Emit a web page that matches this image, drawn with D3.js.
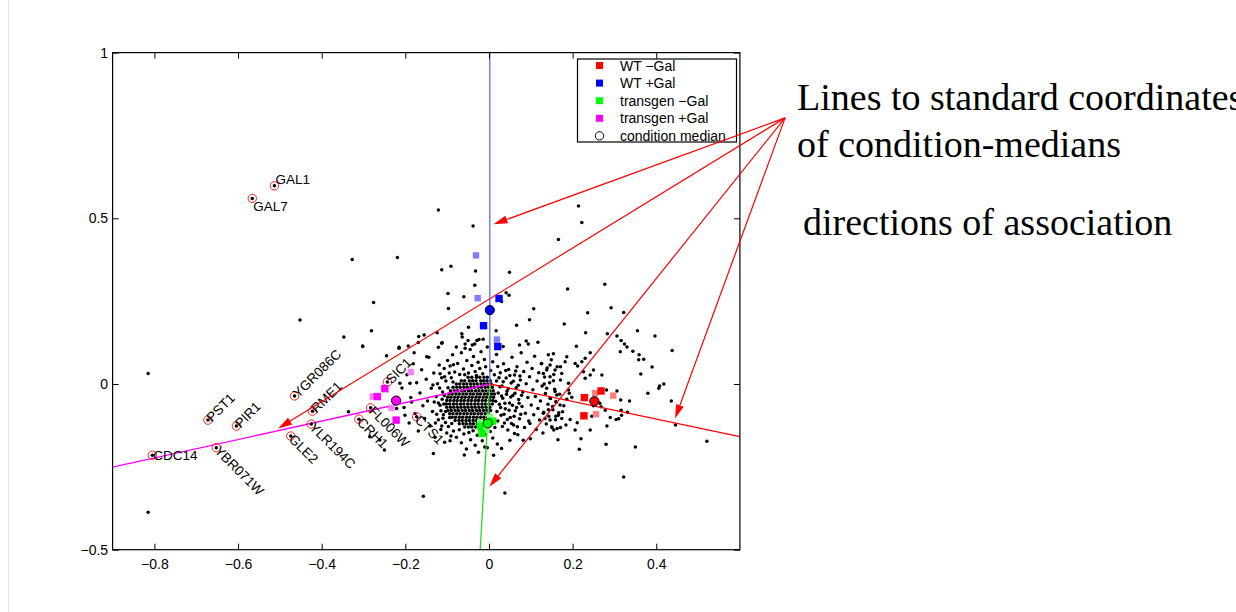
<!DOCTYPE html>
<html>
<head>
<meta charset="utf-8">
<script src="https://cdn.jsdelivr.net/npm/d3@7"></script>
<style>
  body { margin: 0; background: #fff; }
  svg { display: block; }
  .tick text { font-family: "Liberation Sans", Arial, sans-serif; font-size: 14px; fill: #000; }
  .tick line { stroke: #000; }
</style>
</head>
<body>
<div id="chart"></div>
<script>
// axes
const xDomain = [-0.9, 0.6];
const yDomain = [-0.5, 1];
const xTicks = [-0.8, -0.6, -0.4, -0.2, 0, 0.2, 0.4];
const xTickLabels = ['\u22120.8', '\u22120.6', '\u22120.4', '\u22120.2', '0', '0.2', '0.4'];
const yTicks = [-0.5, 0, 0.5, 1];
const yTickLabels = ['\u22120.5', '0', '0.5', '1'];

// conditions: WT -Gal, WT +Gal, transgen -Gal, transgen +Gal
const conditions = ['WT \u2212Gal', 'WT +Gal', 'transgen \u2212Gal', 'transgen +Gal'];
const medians = [[0.252, -0.052], [0.002, 0.223], [-0.003, -0.119], [-0.222, -0.050]];
const lineOrigin = [0.002, 0.0];
const lineEnds = [[0.6, -0.159], [0.002, 1.0], [-0.021, -0.5], [-0.9, -0.251]];
// replicate arrays, batch A (saturated) and batch B (pale)
const repA = [
  [[0.228, -0.041], [0.268, -0.021], [0.227, -0.096]],
  [[0.024, 0.258], [-0.013, 0.176], [0.021, 0.113]],
  [[-0.017, -0.149], [0.009, -0.112], [-0.021, -0.127]],
  [[-0.249, -0.014], [-0.267, -0.038], [-0.222, -0.109]]
];
const repB = [
  [[0.254, -0.028], [0.297, -0.035], [0.256, -0.091]],
  [[-0.031, 0.388], [-0.027, 0.259], [0.019, 0.134]],
  [[0.002, -0.099], [-0.021, -0.116], [-0.006, -0.139]],
  [[-0.187, 0.036], [-0.278, -0.038], [-0.233, -0.072]]
];

// labelled genes
const geneNames = ['GAL1', 'GAL7', 'PST1', 'PIR1', 'CDC14', 'YBR071W', 'YGR086C', 'GLE2',
  'RME1', 'YLR194C', 'SIC1', 'CRH1', 'FL006W', 'CTS1'];
const geneX = [-0.513, -0.566, -0.672, -0.604, -0.805, -0.652, -0.465, -0.474,
  -0.422, -0.425, -0.243, -0.311, -0.283, -0.173];
const geneY = [0.598, 0.560, -0.109, -0.127, -0.215, -0.192, -0.036, -0.157,
  -0.082, -0.121, 0.006, -0.106, -0.072, -0.099];
const geneTilt = [0, 0, -45, -45, 0, 45, -45, 45, -45, 45, -45, 45, 45, 45];

// other genes
const sparseGenes = [
  [-0.121,0.525],[0.214,0.537],[0.222,0.487],[-0.038,0.477],[0.166,0.436],[-0.327,0.376],[-0.219,0.382],
  [-0.113,0.345],[-0.091,0.355],[-0.032,0.341],[0.049,0.337],[-0.034,0.298],[0.188,0.287],[0.277,0.301],
  [-0.098,0.273],[-0.060,0.263],[0.041,0.275],[0.048,0.268],[0.030,0.249],[-0.276,0.246],[-0.097,0.228],
  [0.107,0.227],[0.097,0.194],[0.066,0.177],[0.180,0.181],[0.236,0.215],[0.292,0.230],[0.322,0.216],
  [-0.281,0.161],[-0.049,0.171],[0.017,0.161],[-0.065,0.152],[-0.168,0.143],[-0.155,0.148],[-0.124,0.155],
  [0.231,0.155],[0.283,0.152],[0.306,0.145],[0.355,0.161],[-0.050,0.131],[-0.034,0.121],[-0.024,0.134],
  [-0.014,0.135],[-0.040,0.118],[-0.112,0.125],[-0.193,0.115],[-0.215,0.108],[-0.302,0.113],[-0.121,0.111],
  [-0.057,0.108],[0.034,0.113],[0.073,0.118],[0.094,0.121],[0.117,0.126],[0.089,0.130],[0.209,0.114],
  [0.316,0.131],[0.324,0.121],[0.397,0.145],[0.330,0.112],
  [0.344,0.099],[0.314,0.097],[0.359,0.088],[0.358,0.073],[0.370,0.075],[0.438,0.101],[0.390,0.051],
  [0.363,0.030],[0.418,0.0],[0.408,-0.006],[0.406,-0.013],[0.380,-0.028],[0.436,-0.051],[0.446,-0.124],
  [0.521,-0.173],[0.270,0.027],[0.306,-0.021],[0.315,-0.048],[0.336,-0.051],[0.316,-0.079],[0.331,-0.085],
  [0.317,-0.094],[0.304,-0.107],[0.310,-0.105],[0.290,-0.101],[0.282,-0.127],[0.280,-0.182],[0.350,-0.190],
  [0.322,-0.281],[0.242,-0.139],[0.220,-0.165],[0.216,-0.197],[0.206,-0.139],[0.278,-0.079],[0.246,-0.097],
  [0.268,-0.069],
  [-0.815,0.032],[-0.815,-0.387],[-0.452,0.193],[-0.347,0.142],[-0.302,0.115],[-0.245,0.085],[-0.215,0.111],
  [-0.179,0.094],[-0.169,0.125],[-0.113,0.123],[-0.149,0.082],[-0.213,0.002],[-0.189,0.002],[-0.336,-0.084],
  [-0.250,-0.199],[-0.285,-0.159],[-0.261,-0.169],[-0.185,-0.054],[-0.201,-0.094],[-0.221,-0.074],
  [-0.133,-0.210],[-0.157,-0.339],[0.038,-0.329],[-0.010,-0.190],[0.030,-0.195],[0.050,-0.170],
  [0.061,-0.149],[0.082,-0.170],[0.098,-0.119]
];

const haloGenes = [
  // left of the core
  [-0.208,-0.012],[-0.203,-0.071],[-0.196,0.028],[-0.191,-0.118],[-0.187,-0.041],[-0.181,0.061],[-0.177,-0.089],
  [-0.173,0.004],[-0.169,-0.142],[-0.165,-0.027],[-0.161,0.043],[-0.158,-0.066],[-0.154,-0.104],[-0.150,0.014],
  [-0.147,-0.051],[-0.144,0.081],[-0.141,-0.127],[-0.138,-0.013],[-0.135,-0.083],[-0.132,0.033],[-0.129,-0.161],
  [-0.126,-0.038],[-0.123,0.001],[-0.121,-0.108],[-0.119,0.057],[-0.117,-0.064],[-0.115,-0.137],[-0.113,0.019],
  [-0.111,-0.024],[-0.109,-0.093],[-0.107,0.047],[-0.106,-0.176],[-0.104,-0.116],[-0.103,0.009],[-0.101,-0.148],
  [-0.099,0.071],[-0.098,-0.011],[-0.097,-0.128],[-0.095,0.033],[-0.094,-0.101],[-0.093,0.054],[-0.091,-0.157],
  [-0.090,0.019],[-0.089,-0.119],[-0.087,0.088],[-0.086,0.006],
  [-0.112,-0.046],[-0.115,-0.081],[-0.118,-0.012],[-0.108,-0.060],[-0.110,-0.103],[-0.121,-0.057],[-0.125,-0.091],
  [-0.128,-0.118],[-0.131,-0.054],[-0.134,-0.003],[-0.117,0.031],[-0.106,0.022],[-0.113,-0.127],[-0.104,-0.083],
  [-0.107,-0.035],
  // above the core
  [-0.082,0.036],[-0.075,0.062],[-0.070,0.029],[-0.066,0.094],[-0.061,0.045],[-0.057,0.121],[-0.053,0.071],
  [-0.049,0.033],[-0.045,0.104],[-0.041,0.056],[-0.037,0.083],[-0.033,0.038],[-0.029,0.131],[-0.026,0.066],
  [-0.022,0.047],[-0.019,0.097],[-0.015,0.031],[-0.011,0.074],[-0.008,0.052],[-0.004,0.112],[0.004,0.041],
  [0.009,0.067],[0.013,0.028],[0.018,0.089],[-0.085,0.058],[-0.078,0.112],[-0.064,0.142],[-0.030,0.026],
  [-0.058,0.028],[0.021,0.053],
  // below the core
  [-0.085,-0.142],[-0.078,-0.161],[-0.071,-0.138],[-0.066,-0.177],[-0.060,-0.151],[-0.054,-0.196],[-0.048,-0.146],
  [-0.044,-0.168],[-0.038,-0.141],[-0.033,-0.185],[-0.028,-0.155],[-0.021,-0.139],[-0.016,-0.171],[-0.010,-0.152],
  [-0.004,-0.192],[0.003,-0.143],[0.009,-0.163],[0.014,-0.131],[0.020,-0.181],[-0.093,-0.171],[-0.059,-0.214],
  [-0.025,-0.206],[0.011,-0.215],
  // right of the core
  [0.018,0.009],[0.022,-0.027],[0.025,-0.061],[0.027,0.034],[0.029,-0.094],[0.031,-0.006],[0.033,-0.043],
  [0.035,0.061],[0.037,-0.118],[0.039,-0.075],[0.041,0.018],[0.043,-0.022],[0.045,-0.139],[0.047,0.044],
  [0.049,-0.057],[0.051,-0.101],[0.053,0.003],[0.055,0.081],[0.057,-0.035],[0.059,-0.124],[0.061,0.027],
  [0.063,-0.081],[0.065,-0.011],[0.067,0.052],[0.069,-0.153],[0.071,-0.047],[0.073,-0.105],[0.075,0.012],
  [0.077,0.094],[0.079,-0.068],[0.081,-0.024],[0.083,0.038],[0.085,-0.131],[0.087,-0.088],[0.089,0.001],
  [0.091,0.066],[0.093,-0.041],[0.095,-0.112],[0.097,0.022],[0.099,-0.165],[0.101,-0.063],[0.103,0.047],
  [0.105,-0.017],[0.107,-0.093],[0.109,0.084],[0.111,-0.038],[0.113,-0.137],[0.115,0.009],[0.117,-0.074],
  [0.119,0.034],[0.121,-0.109],[0.123,-0.051],[0.125,0.061],[0.127,-0.006],[0.129,-0.148],[0.131,-0.085],
  [0.133,0.021],[0.135,-0.029],[0.137,-0.121],[0.139,0.048],[0.141,-0.061],[0.143,-0.097],[0.145,0.004],
  [0.147,-0.044],[0.149,0.073],[0.151,-0.132],[0.153,-0.078],[0.155,0.029],[0.157,-0.016],[0.159,-0.108],
  [0.161,-0.055],[0.163,0.052],[0.165,-0.168],[0.167,-0.087],[0.169,-0.031],[0.171,0.012],
  [0.016,-0.052],[0.019,-0.083],[0.021,-0.112],[0.024,0.019],[0.026,-0.008],[0.028,-0.071],[0.030,-0.036],
  [0.032,-0.128],[0.034,0.007],[0.036,-0.091],[0.038,-0.058],[0.040,0.041],[0.042,-0.031],[0.044,-0.107],
  [0.046,-0.014],[0.048,-0.079],[0.050,0.026],[0.052,-0.039],[0.054,-0.119],[0.056,-0.064],[0.058,0.008],
  [0.060,-0.097],[0.062,-0.028],[0.064,0.039],[0.066,-0.071],[0.068,-0.129],[0.070,-0.004],[0.072,-0.058],
  [0.074,0.024],[0.076,-0.091],[0.078,-0.034],
  // right cluster
  [0.192,-0.028],[0.190,0.002],[0.190,-0.018],[0.174,0.032],[0.158,0.042],[0.171,0.052],[0.182,0.067],
  [0.186,0.082],[0.206,0.062],[0.222,0.067],[0.230,0.078],[0.242,0.094],[0.226,0.037],[0.230,0.017],
  [0.242,0.027],[0.250,0.042],[0.212,0.054],[0.146,0.057],[0.142,0.088],[0.154,0.091],[0.138,0.042],
  [0.130,0.032],[0.126,0.062],[0.146,0.022],[0.154,0.010],[0.132,0.0],[0.138,-0.013],[0.158,-0.023],
  [0.162,-0.033],[0.146,-0.043],[0.160,-0.053],[0.170,-0.063],[0.152,-0.068],[0.142,-0.078],[0.130,-0.088],
  [0.134,-0.104],[0.146,-0.109],[0.160,-0.097],[0.174,-0.104],[0.179,-0.066],[0.186,-0.046],[0.198,-0.040],
  [0.211,-0.117],[0.194,-0.107],[0.184,-0.124],[0.171,-0.131],[0.163,-0.134],[0.155,-0.139],[0.150,-0.129],
  [0.166,-0.094],[0.176,-0.084],[0.250,-0.023],[0.281,-0.018],[0.265,-0.058],[0.250,-0.066]
];

// dense core of the cloud: [y, x values along that row]
const coreRows = [
  [0.02, [-0.050,-0.041,-0.030,-0.022,-0.012,-0.004]],
  [0.01, [-0.066,-0.058,-0.047,-0.039,-0.031,-0.020,-0.013,-0.005,0.003]],
  [0.00, [-0.078,-0.070,-0.061,-0.053,-0.044,-0.036,-0.028,-0.019,-0.011,-0.003,0.005]],
  [-0.01, [-0.086,-0.077,-0.069,-0.060,-0.052,-0.043,-0.035,-0.026,-0.018,-0.009,-0.001,0.008]],
  [-0.02, [-0.092,-0.083,-0.075,-0.066,-0.058,-0.049,-0.041,-0.032,-0.024,-0.015,-0.007,0.002,0.010]],
  [-0.03, [-0.096,-0.088,-0.079,-0.071,-0.062,-0.054,-0.045,-0.037,-0.028,-0.020,-0.011,-0.003,0.006,0.013]],
  [-0.04, [-0.099,-0.091,-0.082,-0.074,-0.065,-0.057,-0.048,-0.040,-0.031,-0.023,-0.014,-0.006,0.003,0.011]],
  [-0.05, [-0.101,-0.093,-0.084,-0.076,-0.067,-0.059,-0.050,-0.042,-0.033,-0.025,-0.016,-0.008,0.001,0.009]],
  [-0.06, [-0.102,-0.094,-0.085,-0.077,-0.068,-0.060,-0.051,-0.043,-0.034,-0.026,-0.017,-0.009,0.000,0.008]],
  [-0.07, [-0.101,-0.092,-0.084,-0.075,-0.067,-0.058,-0.050,-0.041,-0.033,-0.024,-0.016,-0.007,0.002]],
  [-0.08, [-0.098,-0.090,-0.081,-0.073,-0.064,-0.056,-0.047,-0.039,-0.030,-0.022,-0.013,-0.005,0.004]],
  [-0.09, [-0.094,-0.086,-0.077,-0.069,-0.060,-0.052,-0.043,-0.035,-0.026,-0.018,-0.009,-0.001]],
  [-0.10, [-0.088,-0.080,-0.071,-0.063,-0.054,-0.046,-0.037,-0.029,-0.020,-0.012,-0.003]],
  [-0.11, [-0.081,-0.072,-0.064,-0.055,-0.047,-0.038,-0.030,-0.021,-0.013]],
  [-0.12, [-0.071,-0.062,-0.054,-0.045,-0.037,-0.028,-0.020]],
  [-0.13, [-0.058,-0.049,-0.041,-0.032]]
];

// annotation arrows (data coordinates)
const arrowFrom = [0.708, 0.803];
const arrowTo = [[0.011, 0.482], [-0.504, -0.134], [0.001, -0.310], [0.445, -0.104]];
const noteLines = ['Lines to standard coordinates', 'of condition-medians', 'directions of association'];

const fullColors = ['#ff0000', '#0000ff', '#00ff00', '#ff00ff'];
const paleColors = ['#ff8080', '#8080ff', '#80ff80', '#ff80ff'];
const lineColors = ['#ff0000', '#6464ff', '#22dd22', '#ff00ff'];

const W = 1236, H = 612;
const svg = d3.select('#chart').append('svg').attr('width', W).attr('height', H);

const x = d3.scaleLinear().domain(xDomain).range([112.6, 739.9]);
const y = d3.scaleLinear().domain(yDomain).range([549.7, 52.6]);

// faint figure edge on the left
svg.append('line').attr('x1', 8.5).attr('x2', 8.5).attr('y1', 0).attr('y2', H)
  .attr('stroke', '#e2e2e2').attr('stroke-width', 1);

svg.append('defs').append('clipPath').attr('id', 'plotclip')
  .append('rect').attr('x', x(xDomain[0])).attr('y', y(yDomain[1]))
  .attr('width', x(xDomain[1]) - x(xDomain[0])).attr('height', y(yDomain[0]) - y(yDomain[1]));

const plot = svg.append('g').attr('clip-path', 'url(#plotclip)');

// gene cloud
const corePts = [];
coreRows.forEach(r => r[1].forEach(v => corePts.push([v, r[0]])));
const allPts = sparseGenes.concat(haloGenes, corePts);
plot.append('g').selectAll('circle').data(allPts).join('circle')
  .attr('cx', d => x(d[0])).attr('cy', d => y(d[1])).attr('r', 1.75).attr('fill', '#000');

// lines to condition medians
plot.append('g').selectAll('line').data(lineEnds).join('line')
  .attr('x1', x(lineOrigin[0])).attr('y1', y(lineOrigin[1]))
  .attr('x2', d => x(d[0])).attr('y2', d => y(d[1]))
  .attr('stroke', (d, i) => lineColors[i]).attr('stroke-width', 1.3);

// labelled genes
const genes = geneNames.map((n, i) => ({ name: n, x: geneX[i], y: geneY[i], tilt: geneTilt[i] }));
const gg = plot.append('g');
gg.selectAll('circle.ring').data(genes).join('circle').attr('class', 'ring')
  .attr('cx', d => x(d.x)).attr('cy', d => y(d.y)).attr('r', 4.2)
  .attr('fill', 'none').attr('stroke', '#ff2020').attr('stroke-width', 1);
gg.selectAll('circle.dot').data(genes).join('circle').attr('class', 'dot')
  .attr('cx', d => x(d.x)).attr('cy', d => y(d.y)).attr('r', 1.75).attr('fill', '#000');
gg.selectAll('text').data(genes).join('text')
  .attr('transform', d => `translate(${x(d.x)},${y(d.y)}) rotate(${d.tilt})`)
  .attr('x', 1)
  .attr('dy', d => d.name === 'GAL1' ? '-0.15em' : d.name === 'GAL7' ? '0.95em' : '0.35em')
  .attr('font-family', '"Liberation Sans", Arial, sans-serif').attr('font-size', 13.5)
  .text(d => d.name);

// replicate squares
const sq = plot.append('g');
repB.forEach((arr, i) => {
  sq.selectAll(null).data(arr).join('rect')
    .attr('x', d => x(d[0]) - 3.2).attr('y', d => y(d[1]) - 3.2)
    .attr('width', 6.4).attr('height', 6.4).attr('fill', paleColors[i]);
});
repA.forEach((arr, i) => {
  sq.selectAll(null).data(arr).join('rect')
    .attr('x', d => x(d[0]) - 3.7).attr('y', d => y(d[1]) - 3.7)
    .attr('width', 7.4).attr('height', 7.4).attr('fill', fullColors[i]);
});

// condition medians
plot.append('g').selectAll('circle').data(medians).join('circle')
  .attr('cx', d => x(d[0])).attr('cy', d => y(d[1])).attr('r', 4.6)
  .attr('fill', (d, i) => fullColors[i]).attr('stroke', '#000').attr('stroke-width', 1);

// axes box with inward ticks
const axisFont = '"Liberation Sans", Arial, sans-serif';
svg.append('g').attr('transform', `translate(0,${y(yDomain[0])})`)
  .call(d3.axisBottom(x).tickValues(xTicks).tickSize(-6).tickPadding(9)
    .tickFormat((d, i) => xTickLabels[i]))
  .call(g => g.select('.domain').remove());
svg.append('g').attr('transform', `translate(0,${y(yDomain[1])})`)
  .call(d3.axisTop(x).tickValues(xTicks).tickSize(-6).tickFormat(''))
  .call(g => g.select('.domain').remove());
svg.append('g').attr('transform', `translate(${x(xDomain[0])},0)`)
  .call(d3.axisLeft(y).tickValues(yTicks).tickSize(-6).tickPadding(4.5)
    .tickFormat((d, i) => yTickLabels[i]))
  .call(g => g.select('.domain').remove());
svg.append('g').attr('transform', `translate(${x(xDomain[1])},0)`)
  .call(d3.axisRight(y).tickValues(yTicks).tickSize(-6).tickFormat(''))
  .call(g => g.select('.domain').remove());
svg.selectAll('.tick text').attr('font-family', axisFont);
svg.append('rect')
  .attr('x', x(xDomain[0])).attr('y', y(yDomain[1]))
  .attr('width', x(xDomain[1]) - x(xDomain[0])).attr('height', y(yDomain[0]) - y(yDomain[1]))
  .attr('fill', 'none').attr('stroke', '#000').attr('stroke-width', 1.2);

// legend
const leg = svg.append('g').attr('transform', 'translate(577.5,59)');
leg.append('rect').attr('width', 159).attr('height', 83)
  .attr('fill', '#fff').attr('stroke', '#000').attr('stroke-width', 1.2);
const legRows = conditions.concat(['condition median']);
legRows.forEach((t, i) => {
  const cy = 6.5 + i * 17.6;
  if (i < 4) {
    leg.append('rect').attr('x', 18.5).attr('y', cy - 3.5).attr('width', 7).attr('height', 7)
      .attr('fill', fullColors[i]);
  } else {
    leg.append('circle').attr('cx', 22).attr('cy', cy).attr('r', 4.2)
      .attr('fill', 'none').attr('stroke', '#000').attr('stroke-width', 1);
  }
  leg.append('text').attr('x', 42.5).attr('y', cy).attr('dy', '0.36em')
    .attr('font-family', axisFont).attr('font-size', 14).text(t);
});

// annotation arrows
const ann = svg.append('g');
const p0 = [x(arrowFrom[0]), y(arrowFrom[1])];
arrowTo.forEach(t => {
  const p1 = [x(t[0]), y(t[1])];
  const a = Math.atan2(p1[1] - p0[1], p1[0] - p0[0]);
  const L = 14, hw = 4;
  const bx = p1[0] - L * Math.cos(a), by = p1[1] - L * Math.sin(a);
  ann.append('line').attr('x1', p0[0]).attr('y1', p0[1]).attr('x2', bx).attr('y2', by)
    .attr('stroke', '#ff0000').attr('stroke-width', 1.2);
  ann.append('polygon')
    .attr('points', [[p1[0], p1[1]],
      [bx + hw * Math.sin(a), by - hw * Math.cos(a)],
      [bx - hw * Math.sin(a), by + hw * Math.cos(a)]].map(p => p.join(',')).join(' '))
    .attr('fill', '#ff0000');
});

// annotation text (first line runs off the right edge, as in the original)
const noteX = [797, 797, 803];
const noteY = [110, 157, 235];
svg.append('g').selectAll('text').data(noteLines).join('text')
  .attr('x', (d, i) => noteX[i]).attr('y', (d, i) => noteY[i])
  .attr('font-family', '"Liberation Serif", "Times New Roman", serif').attr('font-size', 38)
  .text(d => d);
</script>
</body>
</html>
